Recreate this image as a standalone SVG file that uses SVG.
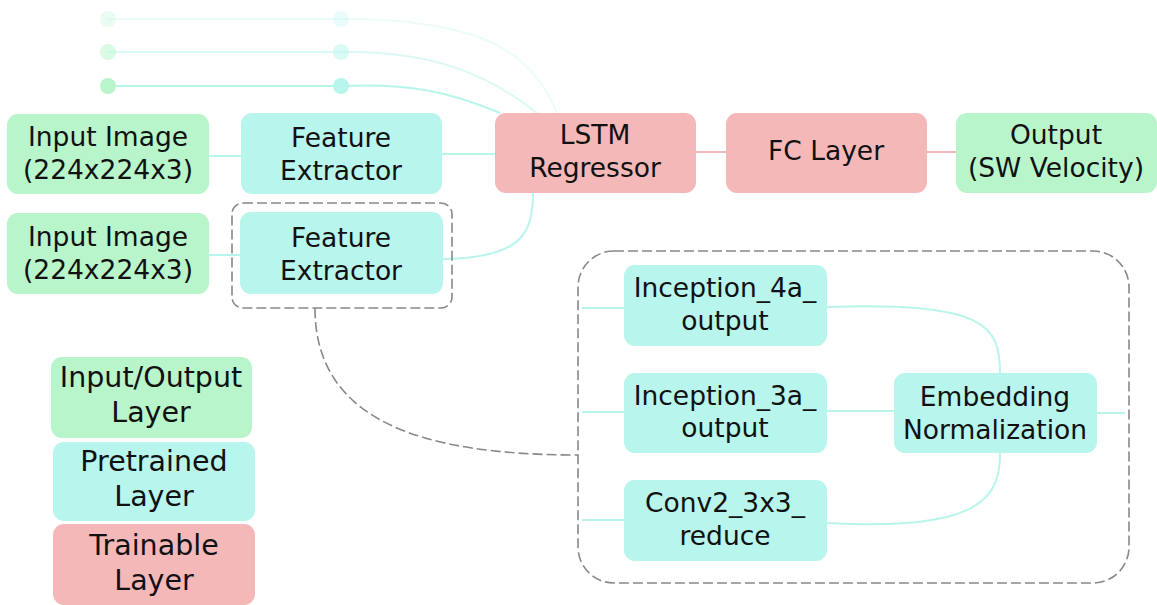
<svg xmlns="http://www.w3.org/2000/svg" width="1157" height="605" viewBox="0 0 1157 605">
<style>
text{font-family:"DejaVu Sans","Liberation Sans",sans-serif;font-size:26.5px;fill:#111;text-anchor:middle}
.lg{font-size:28.5px}
.io{fill:#b8f5cb}
.pt{fill:#b8f5ed}
.tr{fill:#f5b8b8}
.c{fill:none;stroke:#b8f5ed;stroke-width:2}
.cp{fill:none;stroke:#f5b8b8;stroke-width:2}
.d{fill:none;stroke:#888;stroke-width:1.6;stroke-dasharray:10,4}
</style>
<rect width="1157" height="605" fill="#fff"/>
<g id="connectors">
  <g opacity="0.25">
    <line class="c" x1="108" y1="19" x2="341" y2="19"/>
    <path class="c" d="M341,19 C470,19 530,45 557,113"/>
  </g>
  <g opacity="0.5">
    <line class="c" x1="108" y1="52" x2="341" y2="52"/>
    <path class="c" d="M341,52 C440,50 495,80 537,113"/>
  </g>
  <line class="c" x1="108" y1="86" x2="341" y2="86"/>
  <path class="c" d="M341,86 C410,83 450,92 500,113"/>
  <line class="c" x1="209" y1="156" x2="241" y2="156"/>
  <line class="c" x1="442" y1="154" x2="495" y2="154"/>
  <line class="c" x1="209" y1="255" x2="240" y2="255"/>
  <path class="c" d="M443,259 C520,258 533,235 533,193"/>
  <line class="cp" x1="696" y1="152" x2="726" y2="152"/>
  <line class="cp" x1="927" y1="152" x2="956" y2="152"/>
  <path class="d" d="M315,308 C315,420 420,455 578,455"/>
  <line class="c" x1="582" y1="308" x2="624" y2="308"/>
  <line class="c" x1="582" y1="412" x2="624" y2="412"/>
  <line class="c" x1="582" y1="520" x2="624" y2="520"/>
  <path class="c" d="M827,307 C985,302 1000,325 1000,373"/>
  <line class="c" x1="827" y1="411" x2="894" y2="411"/>
  <path class="c" d="M827,523 C985,532 1000,495 1000,453"/>
  <line class="c" x1="1097" y1="413" x2="1125" y2="413"/>
</g>
<g id="timesteps">
  <g opacity="0.3"><circle class="io" cx="108" cy="19" r="8"/><circle class="pt" cx="341" cy="19" r="8"/></g>
  <g opacity="0.5"><circle class="io" cx="108" cy="52" r="8"/><circle class="pt" cx="341" cy="52" r="8"/></g>
  <circle class="io" cx="108" cy="86" r="8"/><circle class="pt" cx="341" cy="86" r="8"/>
</g>
<g id="input1"><rect class="io" x="7" y="114" width="202" height="80" rx="11"/><text x="108" y="146">Input Image</text><text x="108" y="179">(224x224x3)</text></g>
<g id="fe1"><rect class="pt" x="241" y="113" width="201" height="81" rx="11"/><text x="341" y="147">Feature</text><text x="341" y="180">Extractor</text></g>
<g id="input2"><rect class="io" x="7" y="213" width="202" height="81" rx="11"/><text x="108" y="246">Input Image</text><text x="108" y="279">(224x224x3)</text></g>
<g id="fe2box"><rect class="d" x="232" y="203" width="220" height="105" rx="11"/></g>
<g id="fe2"><rect class="pt" x="240" y="212" width="203" height="82" rx="11"/><text x="341" y="247">Feature</text><text x="341" y="280">Extractor</text></g>
<g id="lstm"><rect class="tr" x="495" y="113" width="201" height="80" rx="11"/><text x="595" y="144">LSTM</text><text x="595" y="177">Regressor</text></g>
<g id="fc"><rect class="tr" x="726" y="113" width="201" height="80" rx="11"/><text x="826" y="160">FC Layer</text></g>
<g id="output"><rect class="io" x="956" y="113" width="201" height="80" rx="11"/><text x="1056" y="144">Output</text><text x="1056" y="177">(SW Velocity)</text></g>
<g id="container"><rect class="d" x="578" y="251" width="551" height="332" rx="36"/></g>
<g id="inc4a"><rect class="pt" x="624" y="265" width="203" height="81" rx="11"/><text x="725" y="297">Inception_4a_</text><text x="725" y="330">output</text></g>
<g id="inc3a"><rect class="pt" x="624" y="373" width="203" height="80" rx="11"/><text x="725" y="405">Inception_3a_</text><text x="725" y="437">output</text></g>
<g id="conv2"><rect class="pt" x="624" y="480" width="203" height="81" rx="11"/><text x="725" y="512">Conv2_3x3_</text><text x="725" y="545">reduce</text></g>
<g id="embnorm"><rect class="pt" x="894" y="373" width="203" height="80" rx="11"/><text x="995" y="406">Embedding</text><text x="995" y="439">Normalization</text></g>
<g id="legend-io"><rect class="io" x="51" y="357" width="201" height="81" rx="11"/><text class="lg" x="151" y="387">Input/Output</text><text class="lg" x="151" y="422">Layer</text></g>
<g id="legend-pt"><rect class="pt" x="53" y="442" width="202" height="79" rx="11"/><text class="lg" x="154" y="471">Pretrained</text><text class="lg" x="154" y="506">Layer</text></g>
<g id="legend-tr"><rect class="tr" x="53" y="524" width="202" height="81" rx="11"/><text class="lg" x="154" y="555">Trainable</text><text class="lg" x="154" y="590">Layer</text></g>
</svg>
